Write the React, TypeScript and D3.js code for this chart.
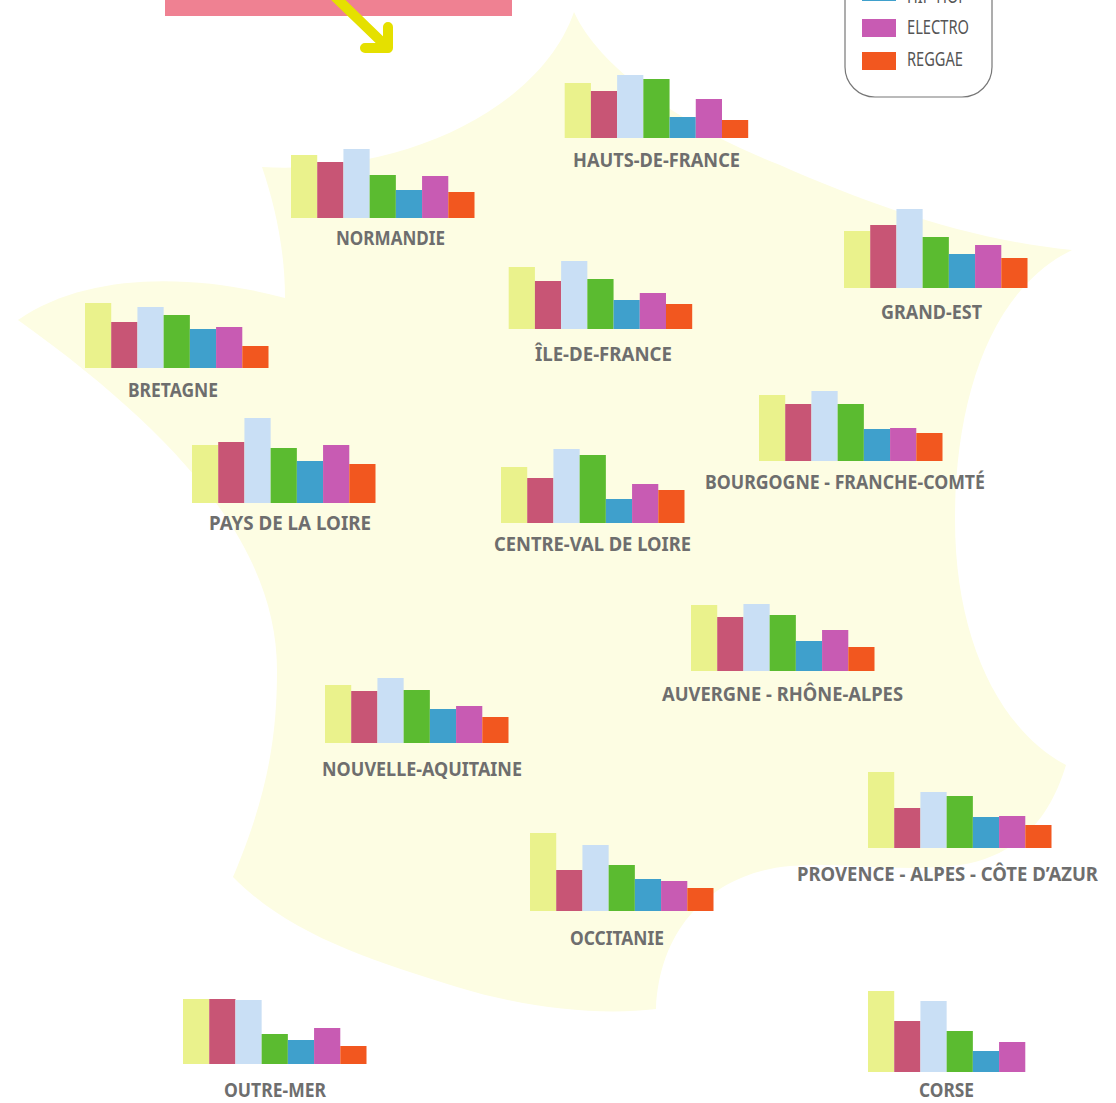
import React, { useEffect, useRef } from "react";
import * as d3 from "d3";

const genres = ["g1", "g2", "g3", "g4", "HIP-HOP", "ELECTRO", "REGGAE"];
const colors = ["#eaf28c", "#c85575", "#c9dff5", "#5bbb30", "#3fa0cc", "#c85bb3", "#f2571f"];

const regions = ["HAUTS-DE-FRANCE", "NORMANDIE", "GRAND-EST", "ÎLE-DE-FRANCE", "BRETAGNE", "PAYS DE LA LOIRE", "CENTRE-VAL DE LOIRE", "BOURGOGNE - FRANCHE-COMTÉ", "AUVERGNE - RHÔNE-ALPES", "NOUVELLE-AQUITAINE", "PROVENCE - ALPES - CÔTE D’AZUR", "OCCITANIE", "OUTRE-MER", "CORSE"];

const hautsDeFrance = [55, 47, 63, 59, 21, 39, 18];
const normandie = [63, 56, 69, 43, 28, 42, 26];
const grandEst = [57, 63, 79, 51, 34, 43, 30];
const ileDeFrance = [62, 48, 68, 50, 29, 36, 25];
const bretagne = [65, 46, 61, 53, 39, 41, 22];
const paysDeLaLoire = [58, 61, 85, 55, 42, 58, 39];
const centre = [56, 45, 74, 68, 24, 39, 33];
const bourgogne = [66, 57, 70, 57, 32, 33, 28];
const auvergne = [66, 54, 67, 56, 30, 41, 24];
const nouvelleAquitaine = [58, 52, 65, 53, 34, 37, 26];
const paca = [76, 40, 56, 52, 31, 32, 23];
const occitanie = [78, 41, 66, 46, 32, 30, 23];
const outreMer = [65, 65, 64, 30, 24, 36, 18];
const corse = [81, 51, 71, 41, 21, 30, 0];

const values = [hautsDeFrance, normandie, grandEst, ileDeFrance, bretagne, paysDeLaLoire, centre, bourgogne, auvergne, nouvelleAquitaine, paca, occitanie, outreMer, corse];

// left edge, baseline, label centre, label baseline, label width
const placement = [
  [564.7, 138, 656.5, 167, 167], [291, 218, 390.5, 245, 109], [844, 288, 931.5, 319, 101], [508.7, 329, 603.5, 361, 137],
  [85, 368, 173, 397, 90], [192, 503, 290, 530, 162], [501, 523, 592.5, 551, 197], [759, 461, 845, 489, 280],
  [691, 671, 782.5, 701, 241], [325, 743, 422, 776, 200], [868, 848, 947.5, 881, 301], [530, 911, 617, 945, 94],
  [183, 1064, 275, 1097, 102], [868, 1072, 946.5, 1097, 55],
];

const franceOutline = "M574,12 C600,70 690,130 780,165 C870,205 970,240 1072,250 C990,290 955,400 955,520 C955,640 1000,730 1066,765 C1052,812 1022,856 960,865 C900,873 850,862 790,866 C720,872 660,920 656,1009 C600,1016 525,1008 457,987 C370,960 290,935 233,877 C270,790 277,730 277,670 C277,560 200,450 18,320 C90,270 200,275 285,298 C285,250 275,205 262,167 C400,175 540,110 574,12 Z";

const FONT = "'Noto Sans', 'DejaVu Sans', sans-serif";

export default function App() {
  const ref = useRef<SVGSVGElement | null>(null);

  useEffect(() => {
    const svg = d3.select(ref.current);
    svg.selectAll("*").remove();

    svg.append("path").attr("d", franceOutline).attr("fill", "#fdfde3");

    // header band and arrow, cut off by the top of the page
    svg.append("rect").attr("x", 165).attr("y", -40).attr("width", 347).attr("height", 56).attr("fill", "#ef8192");
    svg.append("path")
      .attr("d", "M328,-10 L388,48 M388,27 L388,48 L365,48")
      .attr("fill", "none")
      .attr("stroke", "#e5e000")
      .attr("stroke-width", 10)
      .attr("stroke-linecap", "round")
      .attr("stroke-linejoin", "round");

    // legend
    svg.append("rect")
      .attr("x", 845).attr("y", -150).attr("width", 147).attr("height", 247).attr("rx", 30)
      .attr("fill", "#fff").attr("stroke", "#777").attr("stroke-width", 1.2);

    const legendNames = genres.slice(4);
    const swatchY = d3.scaleOrdinal<string, number>().domain(legendNames).range([-17, 19, 52]);
    const labelY = d3.scaleOrdinal<string, number>().domain(legendNames).range([3, 34, 66]);
    const labelW = d3.scaleOrdinal<string, number>().domain(legendNames).range([60, 62, 56]);
    const legend = svg.selectAll(".legend").data(legendNames).enter().append("g");
    legend.append("rect")
      .attr("x", 862).attr("y", d => swatchY(d))
      .attr("width", 34).attr("height", 18)
      .attr("fill", (_, i) => colors[i + 4]);
    legend.append("text")
      .attr("x", 907).attr("y", d => labelY(d))
      .attr("font-family", FONT).attr("font-size", 19).attr("fill", "#555")
      .attr("textLength", d => labelW(d)).attr("lengthAdjust", "spacingAndGlyphs")
      .text(d => d);

    const x = d3.scaleBand<number>().domain(d3.range(7)).range([0, 183.5]).padding(0);
    const h = d3.scaleLinear().domain([0, 100]).range([0, 100]);

    regions.forEach((name, r) => {
      const [left, base, labelX, labelBase, labelWidth] = placement[r];
      const g = svg.append("g").attr("transform", `translate(${left},${base})`);
      g.selectAll("rect")
        .data(values[r])
        .enter()
        .append("rect")
        .attr("x", (_, i) => x(i)!)
        .attr("y", d => -h(d))
        .attr("width", x.bandwidth())
        .attr("height", d => h(d))
        .attr("fill", (_, i) => colors[i]);

      svg.append("text")
        .attr("x", labelX).attr("y", labelBase)
        .attr("text-anchor", "middle")
        .attr("font-family", FONT).attr("font-size", 20).attr("font-weight", "bold")
        .attr("textLength", labelWidth).attr("lengthAdjust", "spacingAndGlyphs")
        .attr("fill", "#6e6e6e")
        .text(name);
    });
  }, []);

  return <svg ref={ref} width={1116} height={1103} style={{ position: "absolute", left: 0, top: 0, background: "#fff" }} />;
}
